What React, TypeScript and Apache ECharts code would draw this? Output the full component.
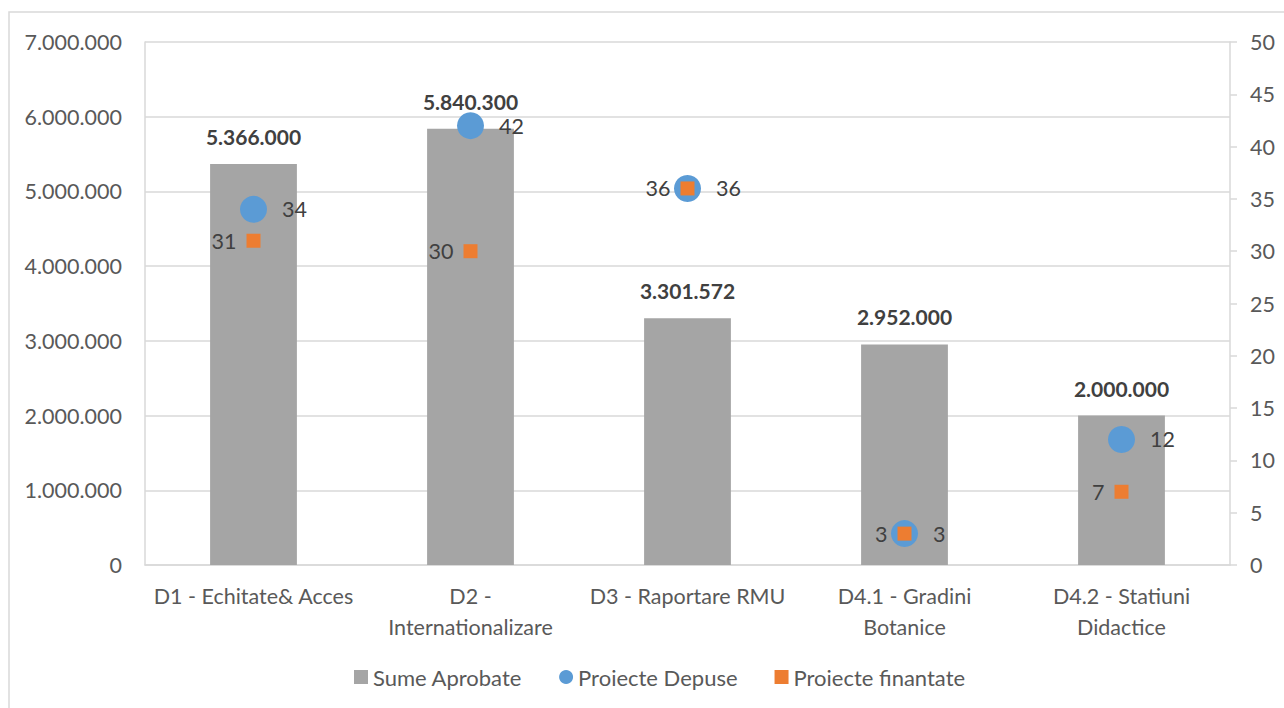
import React, { useEffect, useRef } from "react";
import * as echarts from "echarts";

const categories = [
  "D1 - Echitate& Acces",
  "D2 -\nInternationalizare",
  "D3 - Raportare RMU",
  "D4.1 - Gradini\nBotanice",
  "D4.2 - Statiuni\nDidactice",
];
const sumeAprobate = [5366000, 5840300, 3301572, 2952000, 2000000];
const proiecteDepuse = [34, 42, 36, 3, 12];
const proiecteFinantate = [31, 30, 36, 3, 7];
const leftTicks = { min: 0, max: 7000000, interval: 1000000 };
const rightTicks = { min: 0, max: 50, interval: 5 };

const fmt = (v: number) => String(Math.round(v)).replace(/\B(?=(\d{3})+(?!\d))/g, ".");

const FONT = "Lato, 'Open Sans', sans-serif";
const TXT = "#595959";
const GRID = "#d9d9d9";
const FS = 21.5;

export default function App() {
  const ref = useRef<HTMLDivElement>(null);
  useEffect(() => {
    document.body.style.margin = "0";
    const chart = echarts.init(ref.current!, null, { renderer: "svg" });
    chart.setOption({
      animation: false,
      backgroundColor: "#ffffff",
      textStyle: { fontFamily: FONT },
      graphic: [
        {
          type: "rect",
          shape: { x: 9, y: 12, width: 1400, height: 800 },
          style: { fill: "none", stroke: GRID, lineWidth: 1.5 },
          silent: true,
          z: -10,
        },
      ],
      grid: { left: 145, right: 54, top: 42, bottom: 143, containLabel: false },
      legend: {
        bottom: 15,
        left: 349,
        itemWidth: 14,
        itemHeight: 14,
        itemGap: 37,
        textStyle: { color: TXT, fontSize: 22, fontFamily: FONT },
        data: [
          { name: "Sume Aprobate", icon: "rect" },
          { name: "Proiecte Depuse", icon: "circle" },
          { name: "Proiecte finantate", icon: "rect" },
        ],
      },
      xAxis: {
        type: "category",
        data: categories,
        axisLine: { lineStyle: { color: GRID, width: 1.5 } },
        axisTick: { show: false },
        axisLabel: {
          color: TXT,
          fontSize: FS,
          lineHeight: 31,
          margin: 15,
          fontFamily: FONT,
          interval: 0,
        },
      },
      yAxis: [
        {
          type: "value",
          min: leftTicks.min,
          max: leftTicks.max,
          interval: leftTicks.interval,
          axisLine: { show: true, lineStyle: { color: GRID, width: 1.5 } },
          axisTick: { show: false },
          splitLine: { lineStyle: { color: GRID, width: 1.5 } },
          axisLabel: {
            color: TXT,
            fontSize: FS,
            margin: 23,
            fontFamily: FONT,
            formatter: (v: number) => fmt(v),
          },
        },
        {
          type: "value",
          position: "right",
          min: rightTicks.min,
          max: rightTicks.max,
          interval: rightTicks.interval,
          axisLine: { show: true, lineStyle: { color: GRID, width: 1.5 } },
          axisTick: { show: true, length: 7, lineStyle: { color: GRID, width: 1.5 } },
          splitLine: { show: false },
          axisLabel: { color: TXT, fontSize: FS, margin: 20, fontFamily: FONT },
        },
      ],
      series: [
        {
          name: "Sume Aprobate",
          type: "bar",
          data: sumeAprobate,
          barWidth: "40%",
          itemStyle: { color: "#a5a5a5" },
          label: {
            show: true,
            position: "top",
            distance: 17,
            color: "#404040",
            fontWeight: "bold",
            fontSize: 21,
            fontFamily: FONT,
            formatter: (p: any) => fmt(p.value),
          },
          z: 1,
        },
        {
          name: "Proiecte Depuse",
          type: "scatter",
          yAxisIndex: 1,
          data: proiecteDepuse,
          symbol: "circle",
          symbolSize: 27,
          itemStyle: { color: "#5b9bd5", opacity: 1 },
          label: {
            show: true,
            position: "right",
            distance: 15,
            color: "#404040",
            fontSize: FS,
            fontFamily: FONT,
          },
          z: 3,
        },
        {
          name: "Proiecte finantate",
          type: "scatter",
          yAxisIndex: 1,
          data: proiecteFinantate,
          symbol: "rect",
          symbolSize: 14,
          itemStyle: { color: "#ed7d31", opacity: 1 },
          label: {
            show: true,
            position: "left",
            distance: 10,
            color: "#404040",
            fontSize: FS,
            fontFamily: FONT,
          },
          z: 4,
        },
      ],
    });
    return () => chart.dispose();
  }, []);
  return <div ref={ref} style={{ width: 1284, height: 708 }} />;
}
